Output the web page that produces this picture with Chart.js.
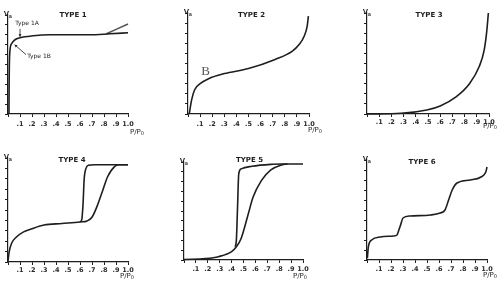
<!DOCTYPE html>
<html lang="en">
<head>
<meta charset="UTF-8">
<title>Adsorption isotherm types</title>
<script src="https://cdn.jsdelivr.net/npm/chart.js"></script>
<style>
  body { margin: 0; background: #fff; }
  .wrap { position: relative; width: 499px; height: 283px; overflow: hidden; }
  canvas { position: absolute; }
</style>
</head>
<body>
<div class="wrap">
  <canvas id="c1" width="166" height="141" style="left:0;top:0"></canvas>
  <canvas id="c2" width="166" height="141" style="left:166px;top:0"></canvas>
  <canvas id="c3" width="167" height="141" style="left:332px;top:0"></canvas>
  <canvas id="c4" width="166" height="142" style="left:0;top:141px"></canvas>
  <canvas id="c5" width="166" height="142" style="left:166px;top:141px"></canvas>
  <canvas id="c6" width="167" height="142" style="left:332px;top:141px"></canvas>
</div>
<script>
// tick labels and panel names
const xTickLabels = ['', '.1', '.2', '.3', '.4', '.5', '.6', '.7', '.8', '.9', '1.0'];
const panelTitles = ['TYPE 1', 'TYPE 2', 'TYPE 3', 'TYPE 4', 'TYPE 5', 'TYPE 6'];

// Type 1 (two branches at the end: flat and rising)
const type1X = [0.008, 0.009, 0.011, 0.017, 0.03, 0.058, 0.10, 0.21, 0.35, 0.68, 0.85, 1.0];
const type1Y = [0, 0.25, 0.48, 0.65, 0.71, 0.75, 0.77, 0.79, 0.80, 0.80, 0.81, 0.82];
const type1RiseX = [0.82, 1.0];
const type1RiseY = [0.81, 0.91];

// Type 2
const type2X = [0.01, 0.03, 0.055, 0.1, 0.17, 0.30, 0.50, 0.72, 0.86, 0.92, 0.96, 0.985, 0.995];
const type2Y = [0, 0.14, 0.24, 0.30, 0.35, 0.40, 0.45, 0.54, 0.62, 0.69, 0.77, 0.87, 0.97];

// Type 3
const type3X = [0, 0.28, 0.49, 0.60, 0.73, 0.84, 0.92, 0.96, 0.98, 0.995];
const type3Y = [0, 0.007, 0.04, 0.08, 0.17, 0.30, 0.47, 0.63, 0.80, 1.0];

// Type 4 (adsorption / desorption)
const type4AdsX = [0, 0.01, 0.03, 0.07, 0.13, 0.2, 0.3, 0.45, 0.6, 0.66, 0.7, 0.74, 0.79, 0.83, 0.89, 0.93, 1.0];
const type4AdsY = [0.01, 0.10, 0.18, 0.24, 0.29, 0.32, 0.355, 0.37, 0.385, 0.395, 0.43, 0.53, 0.69, 0.82, 0.92, 0.935, 0.935];
const type4DesX = [0.6, 0.615, 0.625, 0.635, 0.65, 0.67, 0.72, 1.0];
const type4DesY = [0.385, 0.41, 0.55, 0.80, 0.90, 0.93, 0.935, 0.935];

// Type 5 (adsorption / desorption)
const type5AdsX = [0, 0.18, 0.29, 0.40, 0.44, 0.48, 0.54, 0.58, 0.65, 0.73, 0.82, 0.87, 1.0];
const type5AdsY = [0.005, 0.014, 0.034, 0.085, 0.136, 0.22, 0.47, 0.64, 0.81, 0.92, 0.97, 0.98, 0.98];
const type5DesX = [0.43, 0.44, 0.45, 0.46, 0.48, 0.57, 0.73, 0.87];
const type5DesY = [0.136, 0.20, 0.54, 0.88, 0.93, 0.956, 0.976, 0.98];

// Type 6 (stepwise)
const type6X = [0.003, 0.011, 0.039, 0.11, 0.22, 0.25, 0.26, 0.28, 0.30, 0.36, 0.53, 0.61, 0.65, 0.68, 0.71, 0.75, 0.86, 0.95, 0.99, 1.0];
const type6Y = [0.017, 0.13, 0.2, 0.23, 0.24, 0.25, 0.28, 0.35, 0.42, 0.44, 0.45, 0.47, 0.5, 0.6, 0.7, 0.77, 0.8, 0.83, 0.88, 0.93];

const ink = '#1e1e1e';

function pts(xs, ys) {
  return xs.map((x, i) => ({ x: x, y: ys[i] }));
}

// draws the panel title, V_a, P/P0 and any notes
const decor = {
  id: 'decor',
  afterDraw(chart, args, o) {
    const { ctx, chartArea: a, scales } = chart;
    ctx.save();
    ctx.fillStyle = ink;
    ctx.font = 'bold 7px "DejaVu Sans"';
    ctx.textAlign = 'center';
    ctx.textBaseline = 'middle';
    ctx.fillText(o.title, (a.left + a.right) / 2 + o.titleDx, a.top + o.titleDy);

    // V_a at the top of the y axis
    ctx.font = 'bold 8px "Liberation Sans"';
    ctx.textAlign = 'right';
    ctx.textBaseline = 'alphabetic';
    ctx.fillText('V', a.left + 1, a.top + 1);
    ctx.font = 'bold 5px "Liberation Sans"';
    ctx.textAlign = 'left';
    ctx.fillText('a', a.left + 1, a.top + 3);

    // P/P0
    ctx.font = '7px "DejaVu Sans"';
    ctx.textBaseline = 'middle';
    const px = a.right + o.ppDx, py = a.bottom + o.ppDy;
    ctx.fillText('P/P', px, py);
    const w = ctx.measureText('P/P').width;
    ctx.font = '5px "DejaVu Sans"';
    ctx.fillText('0', px + w, py + 2);

    (o.notes || []).forEach(n => {
      const tx = scales.x.getPixelForValue(n.x), ty = scales.y.getPixelForValue(n.y);
      ctx.font = n.font;
      ctx.fillStyle = n.color || ink;
      ctx.textAlign = 'left';
      ctx.fillText(n.text, tx, ty);
      if (n.ax !== undefined) {
        const x1 = scales.x.getPixelForValue(n.ax), y1 = scales.y.getPixelForValue(n.ay);
        const x0 = scales.x.getPixelForValue(n.fx), y0 = scales.y.getPixelForValue(n.fy);
        ctx.strokeStyle = ink;
        ctx.lineWidth = 0.8;
        ctx.beginPath();
        ctx.moveTo(x0, y0);
        ctx.lineTo(x1, y1);
        ctx.stroke();
        const ang = Math.atan2(y1 - y0, x1 - x0);
        ctx.beginPath();
        ctx.moveTo(x1, y1);
        ctx.lineTo(x1 - 3 * Math.cos(ang - 0.5), y1 - 3 * Math.sin(ang - 0.5));
        ctx.lineTo(x1 - 3 * Math.cos(ang + 0.5), y1 - 3 * Math.sin(ang + 0.5));
        ctx.closePath();
        ctx.fill();
      }
    });
    ctx.restore();
  }
};

function curve(data, color) {
  return {
    data: data,
    borderColor: color || ink,
    borderWidth: 1.6,
    pointRadius: 0,
    cubicInterpolationMode: 'monotone',
    fill: false,
    clip: 4
  };
}

function makePanel(id, datasets, lay) {
  new Chart(document.getElementById(id), {
    type: 'line',
    data: { datasets: datasets },
    plugins: [decor],
    options: {
      responsive: false,
      animation: false,
      layout: { padding: lay.pad },
      plugins: {
        legend: { display: false },
        tooltip: { enabled: false },
        decor: lay.decor
      },
      scales: {
        x: {
          type: 'linear',
          min: 0,
          max: 1,
          afterFit: s => { s.height = 20; },
          border: { color: ink, width: 1.2 },
          grid: { drawOnChartArea: false, tickLength: 3, color: ink, lineWidth: 1 },
          ticks: {
            stepSize: 0.1,
            padding: lay.tickPad,
            maxRotation: 0,
            autoSkip: false,
            color: '#2a2a2a',
            font: { family: 'DejaVu Sans', size: 6.5, weight: 'bold' },
            callback: (v, i) => xTickLabels[i]
          }
        },
        y: {
          min: 0,
          max: 1,
          afterFit: s => { s.width = 4; },
          border: { color: ink, width: 1.2 },
          grid: { drawOnChartArea: false, tickLength: 3, color: ink, lineWidth: 1 },
          ticks: { stepSize: 0.1, display: false }
        }
      }
    }
  });
}

makePanel('c1', [curve(pts(type1X, type1Y)), curve(pts(type1RiseX, type1RiseY), '#555')], {
  pad: { left: 4, right: 38, top: 15, bottom: 7 },
  tickPad: 3,
  decor: {
    title: panelTitles[0], titleDx: 5, titleDy: 0, ppDx: 2, ppDy: 18,
    notes: [
      { text: 'Type 1A', x: 0.06, y: 0.91, font: '6px "DejaVu Sans"', fx: 0.1, fy: 0.86, ax: 0.1, ay: 0.78 },
      { text: 'Type 1B', x: 0.16, y: 0.58, font: '6px "DejaVu Sans"', fx: 0.15, fy: 0.6, ax: 0.055, ay: 0.7 }
    ]
  }
});

makePanel('c2', [curve(pts(type2X, type2Y))], {
  pad: { left: 18, right: 23, top: 13, bottom: 7 },
  tickPad: 3,
  decor: {
    title: panelTitles[1], titleDx: 3, titleDy: 2, ppDx: -1, ppDy: 16,
    notes: [{ text: 'B', x: 0.11, y: 0.42, font: '13px "Liberation Serif"', color: '#555' }]
  }
});

makePanel('c3', [curve(pts(type3X, type3Y))], {
  pad: { left: 31, right: 10, top: 13, bottom: 7 },
  tickPad: 1,
  decor: { title: panelTitles[2], titleDx: 1, titleDy: 2, ppDx: -6, ppDy: 12 }
});

makePanel('c4', [curve(pts(type4AdsX, type4AdsY)), curve(pts(type4DesX, type4DesY))], {
  pad: { left: 4, right: 38, top: 17, bottom: 1 },
  tickPad: 1,
  decor: { title: panelTitles[3], titleDx: 4, titleDy: 2, ppDx: -8, ppDy: 14 }
});

makePanel('c5', [curve(pts(type5AdsX, type5AdsY)), curve(pts(type5DesX, type5DesY))], {
  pad: { left: 14, right: 29, top: 21, bottom: 3 },
  tickPad: 2,
  decor: { title: panelTitles[4], titleDx: 6, titleDy: -2, ppDx: -10, ppDy: 16 }
});

makePanel('c6', [curve(pts(type6X, type6Y))], {
  pad: { left: 31, right: 12, top: 19, bottom: 3 },
  tickPad: 2,
  decor: { title: panelTitles[5], titleDx: -5, titleDy: 2, ppDx: -4, ppDy: 15 }
});
</script>
</body>
</html>
